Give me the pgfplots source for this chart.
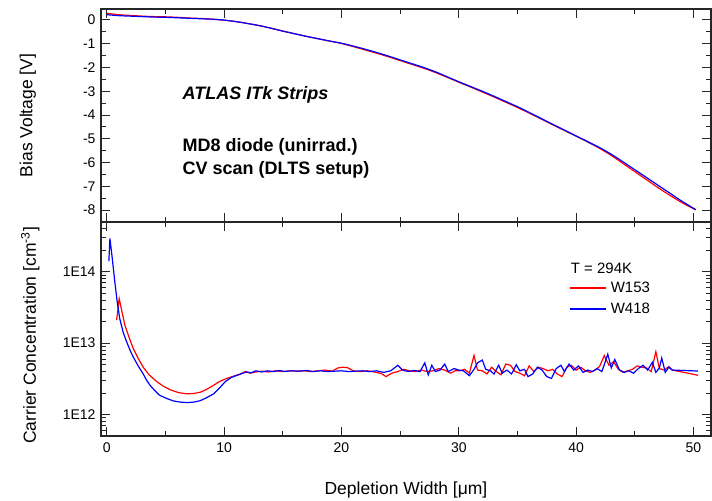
\documentclass[border=0pt]{standalone}
\usepackage{pgfplots}
\pgfplotsset{compat=1.18}
\usepackage{fontspec}
\setmainfont{Liberation Sans}
\definecolor{cred}{RGB}{255,0,0}
\definecolor{cblue}{RGB}{0,0,255}
\newcommand{\tickfont}{\fontsize{14bp}{16bp}\selectfont}
\newcommand{\labfont}{\fontsize{17.5bp}{20bp}\selectfont}
\begin{document}
\begin{tikzpicture}
\pgfplotsset{
  common/.style={
    scale only axis, width=610bp,
    xmin=-0.5, xmax=51.5,
    xtick={0,10,20,30,40,50}, minor x tick num=1,
    axis line style={line width=1.1bp, black!85},
    every tick/.style={black!85, line width=1bp},
    major tick length=9bp, minor tick length=5bp,
    tick align=inside,
    /pgf/number format/assume math mode=true,
    ticklabel style={font=\tickfont},
    yticklabel style={xshift=-2bp},
    xticklabel style={yshift=-3bp},
    label style={font=\labfont},
  }
}
% ---------------- top panel ----------------
\begin{axis}[common,
  at={(101bp,279bp)}, anchor=south west, height=213bp,
  ymin=-8.5, ymax=0.46,
  ytick={-8,-7,-6,-5,-4,-3,-2,-1,0}, minor y tick num=1,
  xticklabels={},
  ylabel={Bias Voltage [V]},
  ylabel style={at={(axis description cs:-0.12,0.5)}, anchor=center},
]
\addplot[cred, line width=1.2bp, smooth, tension=0.5] coordinates {
(0.0,0.28) (1,0.22) (2,0.19) (3,0.16) (4,0.14) (5,0.13) (6,0.11) (7,0.08) (8,0.06) (9,0.03) (10,-0.01)
(11,-0.07) (12,-0.15) (13,-0.24) (14,-0.35) (15,-0.47) (16,-0.58) (17,-0.69) (18,-0.79) (19,-0.89) (20,-0.99)
(21,-1.12) (22,-1.26) (23,-1.40) (24,-1.55) (25,-1.71) (26,-1.87) (27,-2.03) (28,-2.21) (29,-2.41) (30,-2.62)
(31,-2.82) (32,-3.03) (33,-3.24) (34,-3.46) (35,-3.68) (36,-3.92) (37,-4.16) (38,-4.41) (39,-4.65) (40,-4.89)
(41,-5.14) (42,-5.40) (43,-5.70) (44,-6.04) (45,-6.38) (46,-6.72) (47,-7.06) (48,-7.38) (49,-7.68) (50.2,-7.99)
};
\addplot[cblue, line width=1.2bp, smooth, tension=0.5] coordinates {
(0.0,0.22) (1,0.18) (2,0.16) (3,0.14) (4,0.12) (5,0.11) (6,0.09) (7,0.07) (8,0.05) (9,0.03) (10,-0.01)
(11,-0.07) (12,-0.15) (13,-0.24) (14,-0.35) (15,-0.47) (16,-0.58) (17,-0.69) (18,-0.79) (19,-0.89) (20,-0.98)
(21,-1.10) (22,-1.23) (23,-1.37) (24,-1.52) (25,-1.68) (26,-1.84) (27,-2.00) (28,-2.18) (29,-2.39) (30,-2.60)
(31,-2.80) (32,-3.00) (33,-3.21) (34,-3.43) (35,-3.65) (36,-3.89) (37,-4.14) (38,-4.39) (39,-4.63) (40,-4.88)
(41,-5.12) (42,-5.37) (43,-5.65) (44,-5.97) (45,-6.30) (46,-6.63) (47,-6.96) (48,-7.29) (49,-7.62) (50.2,-7.98)
};
\node[anchor=west, font=\fontsize{18bp}{21bp}\selectfont\bfseries\itshape] at (axis description cs:0.128,0.596) {ATLAS ITk Strips};
\node[anchor=west, font=\fontsize{18bp}{21bp}\selectfont\bfseries] at (axis description cs:0.128,0.352) {MD8 diode (unirrad.)};
\node[anchor=west, font=\fontsize{18bp}{21bp}\selectfont\bfseries] at (axis description cs:0.128,0.244) {CV scan (DLTS setup)};
\end{axis}
% ---------------- bottom panel ----------------
\begin{axis}[common,
  at={(101bp,65bp)}, anchor=south west, height=214bp,
  ymode=log, ymin=5e11, ymax=5e14,
  ytick={1e12,1e13,1e14}, yticklabels={1E12,1E13,1E14},
  minor ytick={6e11,7e11,8e11,9e11,2e12,3e12,4e12,5e12,6e12,7e12,8e12,9e12,2e13,3e13,4e13,5e13,6e13,7e13,8e13,9e13,2e14,3e14,4e14},
  xlabel={Depletion Width [μm]},
  xlabel style={at={(axis description cs:0.5,-0.252)}, anchor=center},
  ylabel={Carrier Concentration [cm\textsuperscript{-3}]},
  ylabel style={at={(axis description cs:-0.116,0.47)}, anchor=center},
  legend cell align=left,
  legend style={draw=none, fill=none, font=\fontsize{15bp}{18bp}\selectfont,
    at={(axis description cs:0.762,0.738)}, anchor=north west, row sep=5bp},
  legend image code/.code={\draw[#1, line width=1.8bp] (0bp,0bp) -- (36bp,0bp);},
  legend style={nodes={inner xsep=4bp}},
]
\addplot[cred, line width=1.2bp] coordinates {
(0.83,2.1e13) (1.05,4.2e13) (1.3,2.7e13) (1.54,1.78e13) (1.9,1.2e13) (2.25,8.4e12) (2.7,6.0e12) (3.1,4.6e12)
(3.6,3.6e12) (4.25,2.9e12) (4.8,2.5e12) (5.4,2.22e12) (6.1,2.03e12) (6.8,1.95e12) (7.4,1.97e12) (7.95,2.05e12)
(8.5,2.25e12) (9.1,2.57e12) (9.6,2.9e12) (10.2,3.2e12) (10.8,3.45e12) (11.4,3.7e12) (11.8,4.0e12) (12.2,3.8e12)
(12.7,3.95e12) (13.2,4.05e12) (13.8,3.95e12) (14.4,4.1e12) (15.0,4.0e12) (15.6,4.1e12) (16.2,4.05e12) (16.8,4.1e12)
(17.4,4.0e12) (18.0,4.1e12) (18.6,4.2e12) (19.2,4.05e12) (19.7,4.5e12) (20.1,4.6e12) (20.5,4.55e12) (21.0,4.1e12)
(21.6,4.0e12) (22.2,4.1e12) (22.8,3.95e12) (23.4,3.75e12) (23.8,3.4e12) (24.3,3.8e12) (24.8,4.0e12) (25.3,4.3e12)
(25.8,4.1e12) (26.3,4.0e12) (26.8,4.2e12) (27.3,4.0e12) (27.8,4.1e12) (28.3,4.4e12) (28.8,4.2e12) (29.3,3.8e12)
(29.7,4.1e12) (30.1,4.1e12) (30.5,4.3e12) (30.9,3.8e12) (31.3,6.7e12) (31.6,4.2e12) (32.0,4.1e12) (32.4,3.7e12)
(32.8,4.6e12) (33.2,4.0e12) (33.6,3.6e12) (34.0,5.1e12) (34.4,4.9e12) (34.8,4.0e12) (35.2,3.8e12) (35.6,3.5e12)
(36.0,4.8e12) (36.4,4.0e12) (36.8,4.6e12) (37.2,4.4e12) (37.6,4.1e12) (38.0,4.3e12) (38.4,3.7e12) (38.8,3.4e12)
(39.2,4.6e12) (39.6,4.9e12) (40.0,4.2e12) (40.4,4.6e12) (40.8,4.1e12) (41.2,3.9e12) (41.6,4.2e12) (42.0,4.7e12)
(42.4,6.7e12) (42.8,4.9e12) (43.2,5.5e12) (43.6,4.3e12) (44.0,3.9e12) (44.4,4.1e12) (44.8,4.3e12) (45.2,4.8e12)
(45.6,4.6e12) (46.0,4.5e12) (46.4,4.0e12) (46.8,7.6e12) (47.1,4.4e12) (47.5,4.2e12) (47.9,4.7e12) (48.2,4.2e12)
(50.4,3.55e12)
};
\addlegendentry{W153}
\addplot[cblue, line width=1.2bp] coordinates {
(0.17,1.4e14) (0.26,2.95e14) (0.45,1.6e14) (0.68,7.2e13) (0.9,3.6e13) (1.1,2.2e13) (1.4,1.4e13) (1.68,1.05e13)
(2.0,7.8e12) (2.25,6.4e12) (2.7,4.7e12) (3.1,3.7e12) (3.4,3.0e12) (3.68,2.57e12) (4.1,2.15e12) (4.5,1.86e12)
(5.1,1.68e12) (5.67,1.55e12) (6.3,1.49e12) (6.95,1.47e12) (7.5,1.5e12) (7.95,1.56e12) (8.5,1.72e12) (9.1,1.95e12)
(9.6,2.35e12) (10.1,2.9e12) (10.6,3.3e12) (11.1,3.55e12) (11.5,3.75e12) (11.9,3.95e12) (12.3,3.85e12) (12.7,4.1e12)
(13.2,3.95e12) (13.7,4.1e12) (14.2,4.0e12) (14.7,4.12e12) (15.2,4.02e12) (15.8,4.1e12) (16.4,4.05e12) (17.0,4.15e12)
(17.6,4.0e12) (18.2,4.1e12) (18.8,4.0e12) (19.4,4.05e12) (20.0,4.1e12) (20.6,4.0e12) (21.2,4.05e12) (21.8,4.1e12)
(22.4,4.0e12) (23.0,4.1e12) (23.6,3.9e12) (24.2,4.1e12) (24.8,4.9e12) (25.2,4.2e12) (25.7,4.0e12) (26.2,4.15e12)
(26.7,4.0e12) (27.1,5.3e12) (27.4,3.6e12) (27.7,4.9e12) (28.0,4.0e12) (28.4,4.2e12) (28.8,5.1e12) (29.1,4.0e12)
(29.6,4.4e12) (30.0,4.2e12) (30.4,4.1e12) (30.9,3.5e12) (31.3,4.3e12) (31.6,5.3e12) (32.0,5.8e12) (32.3,4.3e12)
(32.7,4.1e12) (33.0,3.7e12) (33.4,4.9e12) (33.7,3.8e12) (34.1,4.2e12) (34.5,3.7e12) (34.9,5.0e12) (35.2,4.1e12)
(35.6,4.3e12) (35.9,3.4e12) (36.3,3.7e12) (36.7,4.6e12) (37.1,4.2e12) (37.5,3.4e12) (37.9,3.2e12) (38.3,4.4e12)
(38.7,4.9e12) (39.0,4.0e12) (39.4,5.1e12) (39.8,4.2e12) (40.2,4.8e12) (40.6,3.9e12) (41.0,4.2e12) (41.4,4.0e12)
(41.8,4.4e12) (42.2,4.0e12) (42.7,7.0e12) (43.0,4.5e12) (43.3,5.9e12) (43.7,4.2e12) (44.1,3.9e12) (44.5,4.1e12)
(44.9,3.8e12) (45.3,4.4e12) (45.7,4.9e12) (46.1,4.2e12) (46.5,5.4e12) (46.8,3.9e12) (47.1,4.5e12) (47.3,6.2e12)
(47.6,3.9e12) (47.9,4.6e12) (48.2,4.2e12) (50.4,4.07e12)
};
\addlegendentry{W418}
\node[anchor=west, font=\fontsize{15bp}{18bp}\selectfont, inner sep=0pt] at (axis description cs:0.770,0.785) {T = 294K};
\end{axis}
\pgfresetboundingbox
\path[use as bounding box] (0,0) rectangle (712bp,501bp);
\end{tikzpicture}
\end{document}
